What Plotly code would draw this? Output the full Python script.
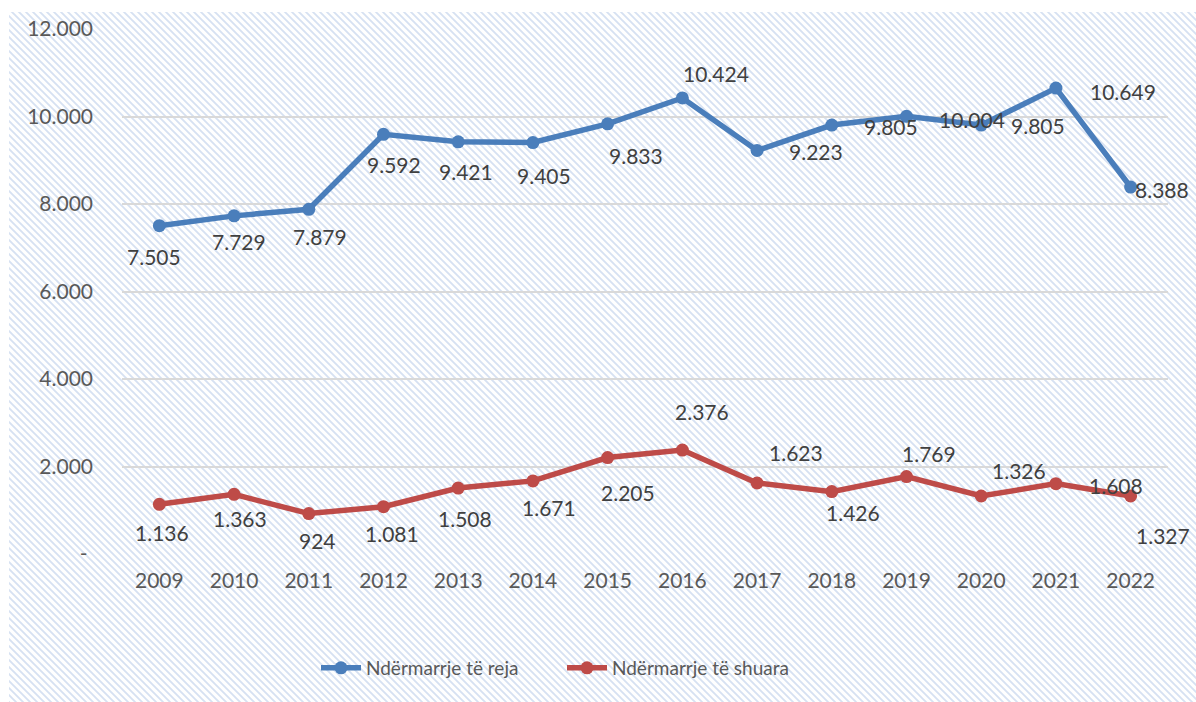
import base64
import plotly.graph_objects as go

# ---- data ----
years = ["2009", "2010", "2011", "2012", "2013", "2014", "2015",
         "2016", "2017", "2018", "2019", "2020", "2021", "2022"]
new_firms = [7505, 7729, 7879, 9592, 9421, 9405, 9833,
             10424, 9223, 9805, 10004, 9805, 10649, 8388]
closed_firms = [1136, 1363, 924, 1081, 1508, 1671, 2205,
                2376, 1623, 1426, 1769, 1326, 1608, 1327]
series_names = ["Ndërmarrje të reja", "Ndërmarrje të shuara"]
y_tick_vals = [0, 2000, 4000, 6000, 8000, 10000, 12000]
y_tick_text = ["- ", "2.000", "4.000", "6.000", "8.000", "10.000", "12.000"]

# ---- label placement (pixel offsets from each point: dx right, dy down) ----
new_dx = [-5, 5, 11, 10, 8, 11, 28, 34, 59, 59, 65, 57, 67, 31]
new_dy = [31, 26, 27, 30, 30, 33, 32, -24, 1, 1, 3, 0, 3, 2]
closed_dx = [3, 6, 9, 8, 7, 16, 20, 20, 39, 21, 22, 38, 60, 32]
closed_dy = [28, 24, 27, 27, 30, 27, 35, -39, -30, 21, -23, -25, 2, 40]

BLUE = "#4A7EBB"
RED = "#BE4B48"
GRID = "#D9D9D9"
TXT = "#595959"
LBL = "#404040"
FONT = "Lato, Carlito, Calibri, sans-serif"

W, H = 1196, 702
ML, MR, MT, MB = 122, 28, 29, 148
PW, PH = W - ML - MR, H - MT - MB


def fmt(v):
    return f"{v:,}".replace(",", ".")


fig = go.Figure()
fig.add_trace(go.Scatter(
    x=years, y=new_firms, name=series_names[0], mode="lines+markers",
    line=dict(color=BLUE, width=5.5), marker=dict(size=13, color=BLUE),
    hoverinfo="skip"))
fig.add_trace(go.Scatter(
    x=years, y=closed_firms, name=series_names[1], mode="lines+markers",
    line=dict(color=RED, width=5.5), marker=dict(size=13, color=RED),
    hoverinfo="skip"))

annotations = []
for i, (v, dx, dy) in enumerate(zip(new_firms, new_dx, new_dy)):
    annotations.append(dict(x=i, y=v, xref="x", yref="y", text=fmt(v),
                            showarrow=False, xshift=dx, yshift=-dy,
                            font=dict(family=FONT, size=21, color=LBL)))
for i, (v, dx, dy) in enumerate(zip(closed_firms, closed_dx, closed_dy)):
    annotations.append(dict(x=i, y=v, xref="x", yref="y", text=fmt(v),
                            showarrow=False, xshift=dx, yshift=-dy,
                            font=dict(family=FONT, size=21, color=LBL)))

# hatched background (light blue diagonal stripes) as an SVG image
svg = f'''<svg xmlns="http://www.w3.org/2000/svg" width="{W}" height="{H}" viewBox="0 0 {W} {H}">
<defs><pattern id="p" width="7" height="7" patternUnits="userSpaceOnUse">
<rect width="7" height="7" fill="#ffffff"/>
<path d="M-1,-1 L8,8 M-1,6 L1,8 M6,-1 L8,1" stroke="#D6E1F2" stroke-width="1.8"/>
</pattern></defs>
<rect x="0" y="0" width="{W}" height="{H}" fill="#ffffff"/>
<rect x="9" y="12" width="{W-9}" height="{H-12}" fill="url(#p)"/>
</svg>'''
src = "data:image/svg+xml;base64," + base64.b64encode(svg.encode()).decode()

fig.update_layout(
    width=W, height=H,
    margin=dict(l=ML, r=MR, t=MT, b=MB),
    paper_bgcolor="#ffffff",
    plot_bgcolor="rgba(0,0,0,0)",
    font=dict(family=FONT, size=21, color=TXT),
    showlegend=True,
    legend=dict(orientation="h", x=(316 - ML) / PW, xanchor="left",
                y=(554 - 668) / PH, yanchor="middle",
                font=dict(family=FONT, size=19, color=TXT),
                bgcolor="rgba(0,0,0,0)", itemwidth=40,
                entrywidth=191, entrywidthmode="pixels"),
    annotations=annotations,
    images=[dict(source=src, xref="paper", yref="paper",
                 x=-ML / PW, y=1 + MT / PH, sizex=W / PW, sizey=H / PH,
                 xanchor="left", yanchor="top", sizing="stretch",
                 layer="below")],
)
fig.update_xaxes(type="category", range=[-0.5, len(years) - 0.5],
                 autorange=False,
                 showgrid=False, showline=False, zeroline=False,
                 ticks="", ticklabelstandoff=12,
                 tickfont=dict(family=FONT, size=21, color=TXT))
fig.update_yaxes(range=[0, 12000], autorange=False,
                 tickvals=y_tick_vals, ticktext=y_tick_text,
                 showgrid=True, gridcolor=GRID, gridwidth=1.8,
                 zeroline=False, showline=False, ticks="",
                 ticklabelstandoff=28,
                 tickfont=dict(family=FONT, size=21, color=TXT))

fig.write_html("out.html",
               config={"displayModeBar": False},
               post_script="document.body.style.margin='0';"
                           "document.body.style.overflow='hidden';")
